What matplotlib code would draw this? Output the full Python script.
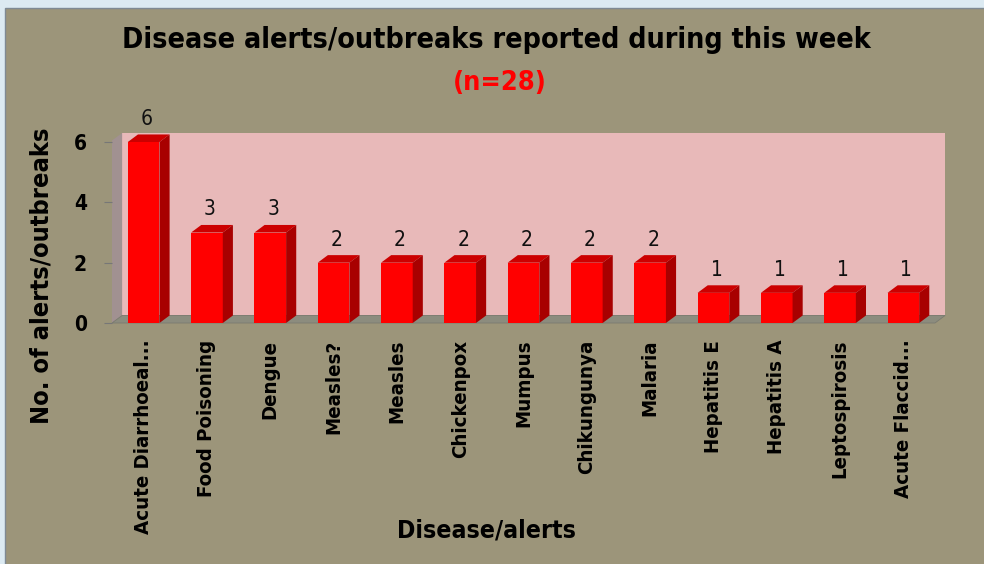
import matplotlib
matplotlib.use("Agg")
import matplotlib.pyplot as plt
from matplotlib.patches import Polygon, Rectangle

# data
diseases = ["Acute Diarrhoeal...", "Food Poisoning", "Dengue", "Measles?", "Measles",
            "Chickenpox", "Mumpus", "Chikungunya", "Malaria", "Hepatitis E",
            "Hepatitis A", "Leptospirosis", "Acute Flaccid..."]
counts = [6, 3, 3, 2, 2, 2, 2, 2, 2, 1, 1, 1, 1]
yticks = [0, 2, 4, 6]

BG = "#9c957a"
WALL = "#e8b9b9"
SIDE_WALL = "#a19191"
FLOOR = "#8c8c7e"
FRONT = "#ff0000"
TOP = "#cc0000"
SIDE = "#a80000"

FONT = dict(family="DejaVu Sans", stretch="condensed")

fig = plt.figure(figsize=(9.84, 5.64), dpi=100, facecolor=BG)
# light frame on top/left only (chart is cropped on the other sides)
fig.patches.append(Rectangle((0, 0), 1, 1, transform=fig.transFigure,
                             facecolor="#dceaf2", edgecolor="none", zorder=-3))
fig.patches.append(Rectangle((5 / 984, -0.1), 1.1, 1.1 - 8 / 564, transform=fig.transFigure,
                             facecolor=BG, edgecolor="#7f8a94", linewidth=1, zorder=-2))

ax = fig.add_axes([112 / 984, 241 / 564, 823 / 984, 181 / 564])
ax.set_facecolor("none")
ax.set_xlim(-0.5, len(diseases) - 0.5)
ax.set_ylim(0, 6)
for s in ax.spines.values():
    s.set_visible(False)

dx, dy = 0.16, 0.25
x0, x1 = -0.5, len(diseases) - 0.5
ymax = 6

# back wall, left wall, floor
ax.add_patch(Polygon([(x0 + dx, dy), (x1 + dx, dy), (x1 + dx, ymax + dy + 0.05), (x0 + dx, ymax + dy + 0.05)],
                     closed=True, facecolor=WALL, edgecolor="none", clip_on=False, zorder=0))
ax.add_patch(Polygon([(x0, 0), (x0 + dx, dy), (x0 + dx, ymax + dy + 0.05), (x0, ymax + 0.05)],
                     closed=True, facecolor=SIDE_WALL, edgecolor="none", clip_on=False, zorder=0))
ax.add_patch(Polygon([(x0, 0), (x1, 0), (x1 + dx, dy), (x0 + dx, dy)],
                     closed=True, facecolor=FLOOR, edgecolor="#7a7a70", linewidth=0.6,
                     clip_on=False, zorder=0.5))

w = 0.5
xs = list(range(len(diseases)))
ax.bar(xs, counts, width=w, color=FRONT, edgecolor="none", zorder=3)
for x, h in zip(xs, counts):
    l, r = x - w / 2, x + w / 2
    ax.add_patch(Polygon([(l, h), (r, h), (r + dx, h + dy), (l + dx, h + dy)],
                         closed=True, facecolor=TOP, edgecolor="none", clip_on=False, zorder=3))
    ax.add_patch(Polygon([(r, 0), (r + dx, dy), (r + dx, h + dy), (r, h)],
                         closed=True, facecolor=SIDE, edgecolor="none", clip_on=False, zorder=3))
    ax.annotate(str(h), (x + dx * 0.3, h + dy), xytext=(0, 4), textcoords="offset points",
                ha="center", va="bottom", fontsize=15, color="#111111",
                annotation_clip=False, zorder=4, **FONT)

ax.set_yticks(yticks)
ax.set_yticklabels([str(v) for v in yticks], fontsize=15, fontweight="bold", **FONT)
ax.tick_params(axis="y", length=6, color="#777777", pad=12)
ax.set_xticks(xs)
ax.set_xticklabels(diseases, rotation=90, fontsize=14.7, fontweight="bold", **FONT)
ax.tick_params(axis="x", length=0, pad=12)

fig.text(496 / 984, 1 - 40 / 564, "Disease alerts/outbreaks reported during this week",
         ha="center", va="center", fontsize=20.5, fontweight="bold", **FONT)
fig.text(500 / 984, 1 - 83 / 564, "(n=28)", ha="center", va="center",
         fontsize=19.5, fontweight="bold", color="#ff0000", **FONT)
fig.text(42 / 984, 1 - 276 / 564, "No. of alerts/outbreaks", rotation=90,
         ha="center", va="center", fontsize=18.2, fontweight="bold", **FONT)
fig.text(486 / 984, 1 - 530 / 564, "Disease/alerts", ha="center", va="center",
         fontsize=17.8, fontweight="bold", **FONT)

fig.savefig("out.png", dpi=100, facecolor=BG)
